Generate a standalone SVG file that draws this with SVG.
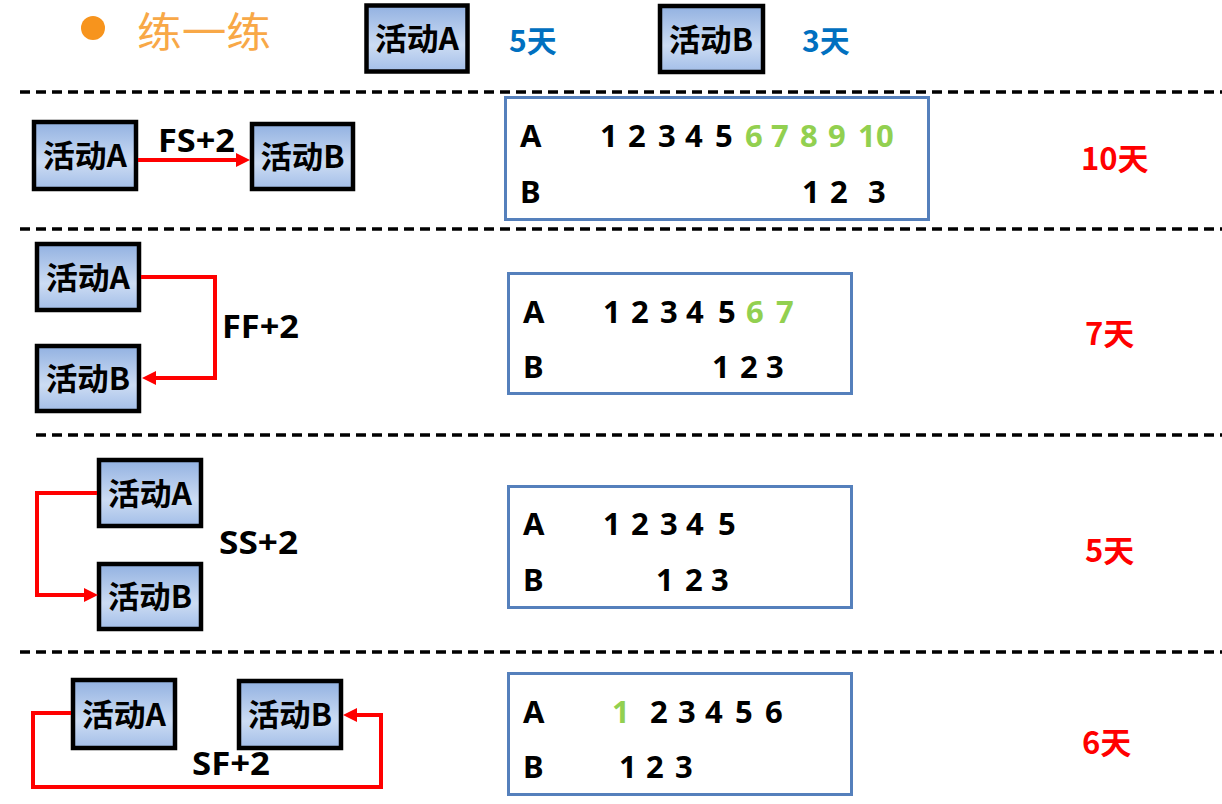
<svg xmlns="http://www.w3.org/2000/svg" width="1222" height="804" viewBox="0 0 1222 804">
<style>
.node rect{fill:url(#nodeFill);stroke:#000;stroke-width:4.5}
.nt{font-family:"Noto Sans CJK SC","Noto Sans",sans-serif;font-weight:700;font-size:31px;text-anchor:middle;fill:#000}
.lab{font-family:"Noto Sans","Open Sans",sans-serif;font-weight:700;font-size:32px;fill:#000}
.tbl{fill:none;stroke:#5580BC;stroke-width:3}
.num{font-family:"Noto Sans","Open Sans",sans-serif;font-weight:700;font-size:31px;fill:#000}
.g{fill:#92D050}
.res{font-family:"Noto Sans CJK SC","Noto Sans",sans-serif;font-weight:700;font-size:31px;fill:#FF0000}
.blue{font-family:"Noto Sans CJK SC","Noto Sans",sans-serif;font-weight:700;font-size:30px;fill:#0070C0}
.dash{stroke:#000;stroke-width:3.5;stroke-dasharray:10 6;fill:none}
.conn path{fill:none;stroke:#FF0000;stroke-width:4;stroke-linejoin:miter}
</style>
<defs>
<linearGradient id="nodeFill" x1="0" y1="0" x2="0" y2="1">
<stop offset="0" stop-color="#92B1E1"/>
<stop offset="0.6" stop-color="#CCDCF3"/>
<stop offset="1" stop-color="#A3BEE8"/>
</linearGradient>
<marker id="arr" markerUnits="userSpaceOnUse" markerWidth="15" markerHeight="14" refX="0" refY="7" orient="auto">
<path d="M0,0 L14,7 L0,14 z" fill="#FF0000"/>
</marker>
</defs>
<rect width="1222" height="804" fill="#fff"/>

<!-- header -->
<circle cx="93" cy="28" r="12" fill="#F7941D"/>
<text x="137" y="47" font-family="Noto Sans CJK SC,sans-serif" font-size="41" fill="#F8A847" textLength="134" lengthAdjust="spacingAndGlyphs">练一练</text>
<g id="hdrA" class="node"><rect x="366.5" y="5.5" width="101" height="66"/><text class="nt" x="417" y="50" textLength="84" lengthAdjust="spacingAndGlyphs">活动A</text></g>
<text class="blue" x="509" y="52">5天</text>
<g id="hdrB" class="node"><rect x="660" y="6" width="103" height="66"/><text class="nt" x="711" y="50.5" textLength="84" lengthAdjust="spacingAndGlyphs">活动B</text></g>
<text class="blue" x="802" y="52">3天</text>

<!-- separators -->
<g id="separators">
<line class="dash" x1="20" y1="92" x2="1222" y2="92"/>
<line class="dash" x1="20" y1="229" x2="1222" y2="229"/>
<line class="dash" x1="36" y1="435" x2="1222" y2="435"/>
<line class="dash" x1="20" y1="652" x2="1222" y2="652"/>
</g>

<!-- row 1: FS -->
<g id="r1A" class="node"><rect x="34" y="122" width="102" height="67"/><text class="nt" x="85" y="167" textLength="84" lengthAdjust="spacingAndGlyphs">活动A</text></g>
<g id="r1B" class="node"><rect x="252" y="124" width="101" height="65"/><text class="nt" x="302.5" y="168" textLength="84" lengthAdjust="spacingAndGlyphs">活动B</text></g>
<text class="lab" x="158" y="152" textLength="77" lengthAdjust="spacingAndGlyphs">FS+2</text>

<!-- row 2: FF -->
<g id="r2A" class="node"><rect x="37" y="244" width="102" height="66"/><text class="nt" x="88" y="288.5" textLength="84" lengthAdjust="spacingAndGlyphs">活动A</text></g>
<g id="r2B" class="node"><rect x="37" y="346" width="102" height="65"/><text class="nt" x="88" y="390" textLength="84" lengthAdjust="spacingAndGlyphs">活动B</text></g>
<text class="lab" x="222" y="338" textLength="77" lengthAdjust="spacingAndGlyphs">FF+2</text>

<!-- row 3: SS -->
<g id="r3A" class="node"><rect x="99" y="460" width="102" height="66"/><text class="nt" x="150" y="504.5" textLength="84" lengthAdjust="spacingAndGlyphs">活动A</text></g>
<g id="r3B" class="node"><rect x="99" y="564" width="102" height="65"/><text class="nt" x="150" y="607.5" textLength="84" lengthAdjust="spacingAndGlyphs">活动B</text></g>
<text class="lab" x="219" y="554" textLength="79" lengthAdjust="spacingAndGlyphs">SS+2</text>

<!-- row 4: SF -->
<g id="r4A" class="node"><rect x="73" y="680" width="102" height="68"/><text class="nt" x="124" y="725.5" textLength="84" lengthAdjust="spacingAndGlyphs">活动A</text></g>
<g id="r4B" class="node"><rect x="239" y="681" width="102" height="67"/><text class="nt" x="290" y="726" textLength="84" lengthAdjust="spacingAndGlyphs">活动B</text></g>
<text class="lab" x="192" y="775" textLength="78" lengthAdjust="spacingAndGlyphs">SF+2</text>

<!-- connectors -->
<g id="connectors" class="conn">
<path d="M138,160 H236" marker-end="url(#arr)"/>
<path d="M141,277 H215 V378 H156" marker-end="url(#arr)"/>
<path d="M97,493 H37 V595 H84" marker-end="url(#arr)"/>
<path d="M71,713 H33 V787 H381 V715 H357" marker-end="url(#arr)"/>
</g>

<!-- table 1 -->
<g id="table1">
<rect class="tbl" x="505.5" y="97.5" width="423" height="122"/>
<text class="num" x="520" y="147">A</text>
<text class="num" x="600 628 658 685 715" y="147">12345</text>
<text class="num g" x="745 771 800 828 858 876" y="147">678910</text>
<text class="num" x="520" y="203">B</text>
<text class="num" x="802 830 868" y="203">123</text>
</g>
<text class="res" x="1081" y="170">10天</text>

<!-- table 2 -->
<g id="table2">
<rect class="tbl" x="508.5" y="273.5" width="343" height="120"/>
<text class="num" x="523" y="323">A</text>
<text class="num" x="603 631 660 686 718" y="323">12345</text>
<text class="num g" x="746 776" y="323">67</text>
<text class="num" x="523" y="378">B</text>
<text class="num" x="712 740 766" y="378">123</text>
</g>
<text class="res" x="1085" y="345">7天</text>

<!-- table 3 -->
<g id="table3">
<rect class="tbl" x="508.5" y="486.5" width="343" height="121"/>
<text class="num" x="523" y="535">A</text>
<text class="num" x="603 631 660 686 718" y="535">12345</text>
<text class="num" x="523" y="591">B</text>
<text class="num" x="656 685 711" y="591">123</text>
</g>
<text class="res" x="1085" y="562">5天</text>

<!-- table 4 -->
<g id="table4">
<rect class="tbl" x="508.5" y="673.5" width="343" height="121"/>
<text class="num" x="523" y="723">A</text>
<text class="num g" x="612" y="723">1</text>
<text class="num" x="650 678 705 735 765" y="723">23456</text>
<text class="num" x="523" y="778">B</text>
<text class="num" x="619 646 675" y="778">123</text>
</g>
<text class="res" x="1082" y="754">6天</text>
</svg>
